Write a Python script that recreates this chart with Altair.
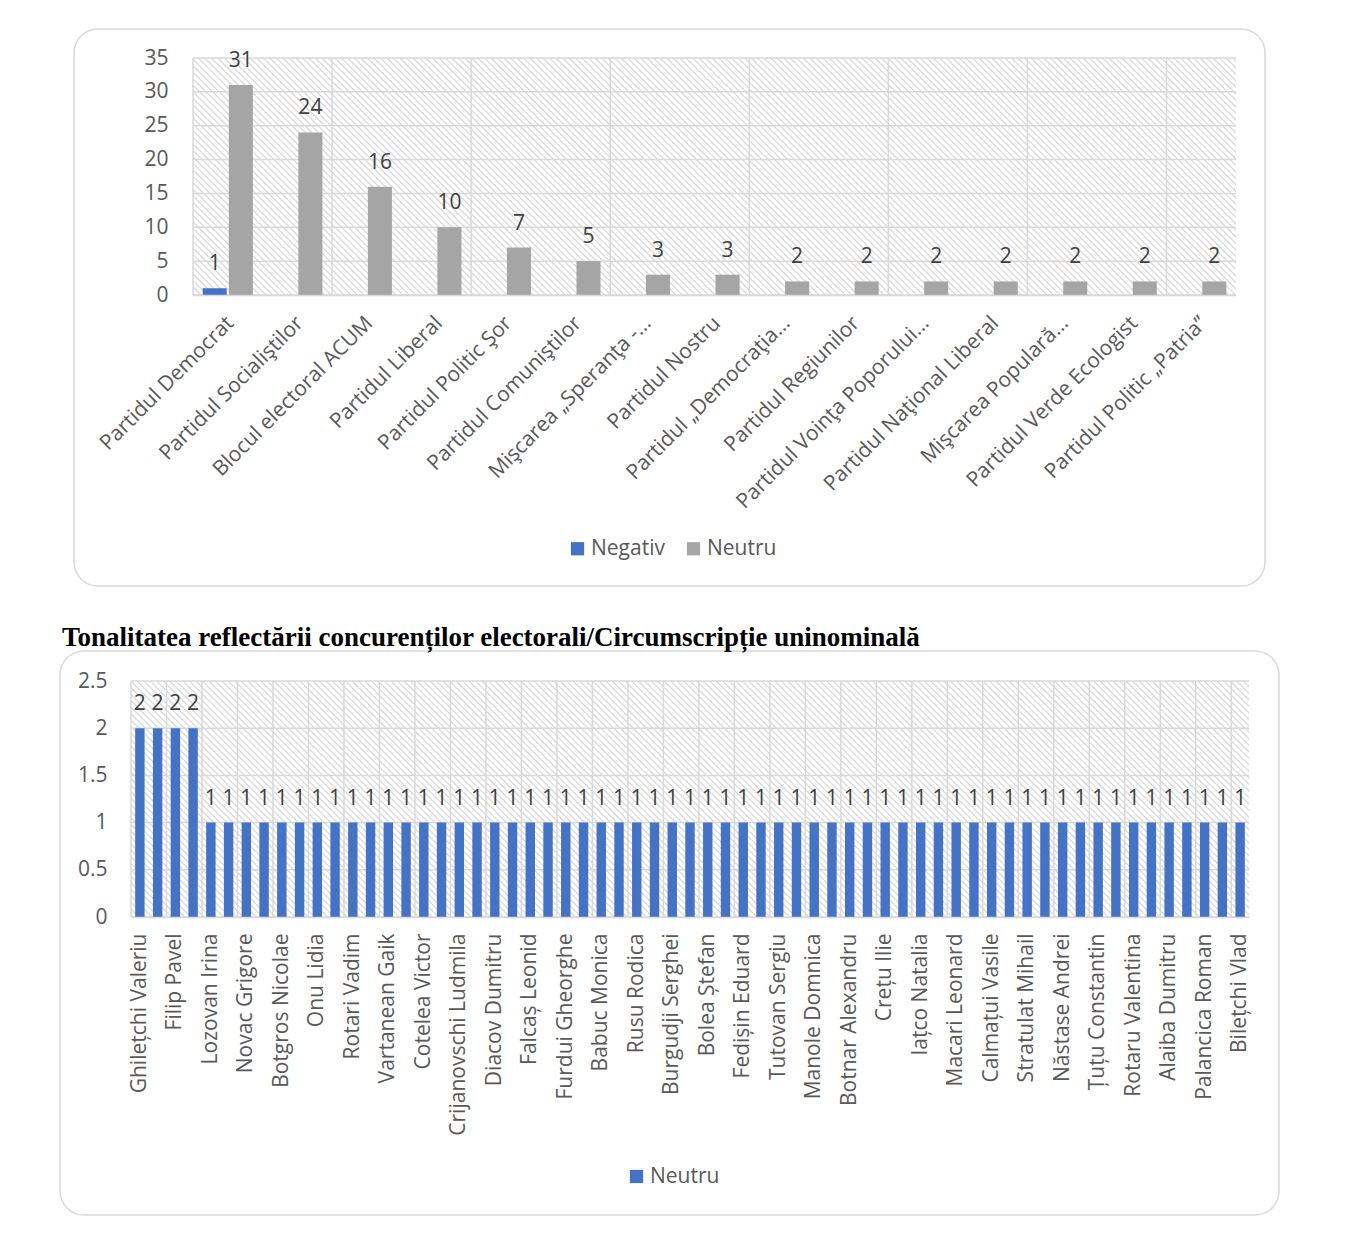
import json
import altair as alt
import pandas as pd

# ---------------- data ----------------
parties = [
    "Partidul Democrat", "Partidul Socialiştilor", "Blocul electoral ACUM",
    "Partidul Liberal", "Partidul Politic Şor", "Partidul Comuniştilor",
    "Mişcarea „Speranţa -…", "Partidul Nostru", "Partidul „Democraţia…",
    "Partidul Regiunilor", "Partidul Voinţa Poporului…", "Partidul Naţional Liberal",
    "Mişcarea Populară…", "Partidul Verde Ecologist", "Partidul Politic „Patria”",
]
negativ = [1, None, None, None, None, None, None, None, None, None, None, None, None, None, None]
neutru = [31, 24, 16, 10, 7, 5, 3, 3, 2, 2, 2, 2, 2, 2, 2]
series = ["Negativ", "Neutru"]
series_colors = ["#4472C4", "#A5A5A5"]
top_y_ticks = [0, 5, 10, 15, 20, 25, 30, 35]

# only every other candidate name is printed on the axis of the original chart
candidate_labels = [
    "Ghilețchi Valeriu", "Filip Pavel", "Lozovan Irina", "Novac Grigore",
    "Botgros Nicolae", "Onu Lidia", "Rotari Vadim", "Vartanean Gaik",
    "Cotelea Victor", "Crijanovschi Ludmila", "Diacov Dumitru", "Falcaș Leonid",
    "Furdui Gheorghe", "Babuc Monica", "Rusu Rodica", "Burgudji Serghei",
    "Bolea Ștefan", "Fedișin Eduard", "Tutovan Sergiu", "Manole Domnica",
    "Botnar Alexandru", "Crețu Ilie", "Iațco Natalia", "Macari Leonard",
    "Calmațui Vasile", "Stratulat Mihail", "Năstase Andrei", "Țuțu Constantin",
    "Rotaru Valentina", "Alaiba Dumitru", "Palancica Roman", "Bilețchi Vlad",
]
candidate_neutru = [
    2, 2, 2, 2, 1, 1, 1, 1, 1, 1, 1, 1, 1, 1, 1, 1, 1, 1, 1, 1, 1,
    1, 1, 1, 1, 1, 1, 1, 1, 1, 1, 1, 1, 1, 1, 1, 1, 1, 1, 1, 1, 1,
    1, 1, 1, 1, 1, 1, 1, 1, 1, 1, 1, 1, 1, 1, 1, 1, 1, 1, 1, 1, 1,
]
bottom_y_ticks = [0, 0.5, 1, 1.5, 2, 2.5]
title_text = "Tonalitatea reflectării concurenților electorali/Circumscripție uninominală"

FONT = "Open Sans"
FS = 21
LABEL_COLOR = "#595959"
VALUE_COLOR = "#404040"
GRID = "#d9d9d9"
FRAME = "#d9d9d9"


def hatch(W, H, period=4.6, line=2.2, bg="#ffffff", fg="#d3d3d3"):
    """Diagonal hatch built from a striped linear gradient."""
    r = H / W
    k = (1 + r) / (1 + r * r)
    L = (W + H) / 2 ** 0.5
    stops = []
    i = 0
    while True:
        a = i * period / L
        b = (i * period + line / 2) / L
        c = (i * period + line) / L
        if c > 1:
            break
        stops += [
            {"offset": round(a, 6), "color": bg},
            {"offset": round(b, 6), "color": fg},
            {"offset": round(c, 6), "color": bg},
        ]
        i += 1
    return {"gradient": "linear", "x1": 0, "y1": 1, "x2": k, "y2": 1 - k * r, "stops": stops}


one = alt.Data(values=[{}])

# ---------------- top chart (view = framed chart area) ----------------
TVW, TVH = 1191, 557          # frame / view size
TX0, TX1 = 119, 1162          # plot area inside the view
TY0, TY1 = 29, 266
rows = []
for p, ng, nt in zip(parties, negativ, neutru):
    if ng is not None:
        rows.append({"party": p, "series": "Negativ", "value": ng})
    if nt is not None:
        rows.append({"party": p, "series": "Neutru", "value": nt})
top_df = pd.DataFrame(rows)
top_vgrid = pd.DataFrame({"party": parties[::2]})
top_hgrid = pd.DataFrame({"v": top_y_ticks})

x_scale_t = alt.Scale(domain=parties, range=[TX0, TX1], paddingInner=0, paddingOuter=0)
x_axis_t = alt.Axis(
    title=None, labelAngle=-45, labelFont=FONT, labelFontSize=FS, labelColor=LABEL_COLOR,
    labelLimit=500, ticks=False, domainColor=GRID, domainWidth=1.5, labelPadding=17,
    labelOffset=-5, grid=False, zindex=1, offset=-(TVH - TY1),
)
y_scale_t = alt.Scale(domain=[0, 35], range=[TY1, TY0], nice=False)
y_axis_t = alt.Axis(
    title=None, values=top_y_ticks, grid=False, domain=False, ticks=False, tickSize=0,
    labelPadding=25, labelFont=FONT, labelFontSize=FS, labelColor=LABEL_COLOR, zindex=1,
    offset=-TX0,
)
xo = alt.XOffset("series:N", scale=alt.Scale(domain=series, paddingInner=0.08, paddingOuter=0.37))

t_bg = alt.Chart(one).mark_rect(fill=hatch(TX1 - TX0, TY1 - TY0)).encode(
    x=alt.value(TX0), x2=alt.value(TX1), y=alt.value(TY0), y2=alt.value(TY1)
)
t_hgrid = alt.Chart(top_hgrid).mark_rule(color=GRID, strokeWidth=1.5).encode(
    y=alt.Y("v:Q", scale=y_scale_t, axis=y_axis_t), x=alt.value(TX0), x2=alt.value(TX1)
)
t_vgrid = alt.Chart(top_vgrid).mark_rule(color=GRID, strokeWidth=1.5).encode(
    x=alt.X("party:N", scale=x_scale_t, axis=x_axis_t, bandPosition=0),
    y=alt.value(TY0), y2=alt.value(TY1),
)
t_bars = alt.Chart(top_df).mark_bar().encode(
    x=alt.X("party:N", scale=x_scale_t, axis=x_axis_t),
    xOffset=xo,
    y=alt.Y("value:Q", scale=y_scale_t, axis=y_axis_t),
    color=alt.Color(
        "series:N",
        scale=alt.Scale(domain=series, range=series_colors),
        legend=alt.Legend(
            title=None, orient="none", legendX=493, legendY=509, direction="horizontal",
            symbolType="square", symbolSize=175, symbolStrokeWidth=0, labelFont=FONT,
            labelFontSize=FS, labelColor=LABEL_COLOR, columnPadding=18, labelOffset=3,
            padding=0,
        ),
    ),
)
t_text = alt.Chart(top_df).mark_text(
    font=FONT, fontSize=FS, color=VALUE_COLOR, baseline="alphabetic", dy=-18
).encode(
    x=alt.X("party:N", scale=x_scale_t, axis=x_axis_t),
    xOffset=xo,
    y=alt.Y("value:Q", scale=y_scale_t, axis=y_axis_t),
    text=alt.Text("value:Q"),
)
top = alt.layer(t_bg, t_hgrid, t_vgrid, t_bars, t_text).properties(width=TVW, height=TVH)

# ---------------- bottom chart ----------------
BVW, BVH = 1219, 564
BX0, BX1 = 71, 1189
BY0, BY1 = 30, 266
n = len(candidate_neutru)
idx = list(range(n))
bot_df = pd.DataFrame({"idx": idx, "value": candidate_neutru, "series": ["Neutru"] * n})
bot_vgrid = pd.DataFrame({"idx": idx[::2]})
bot_hgrid = pd.DataFrame({"v": bottom_y_ticks})

label_expr = json.dumps(candidate_labels, ensure_ascii=False) + "[datum.value / 2]"
x_scale_b = alt.Scale(domain=idx, range=[BX0, BX1], paddingInner=0, paddingOuter=0)
x_axis_b = alt.Axis(
    title=None, values=idx[::2], labelExpr=label_expr, labelAngle=-90, labelFont=FONT,
    labelFontSize=FS, labelColor=LABEL_COLOR, labelLimit=500, ticks=False, domainColor=GRID,
    domainWidth=1.5, labelPadding=16, grid=False, zindex=1, offset=-(BVH - BY1),
)
y_scale_b = alt.Scale(domain=[0, 2.5], range=[BY1, BY0], nice=False)
y_axis_b = alt.Axis(
    title=None, values=bottom_y_ticks, format="~g", grid=False, domain=False, ticks=False,
    tickSize=0, labelPadding=24, labelFont=FONT, labelFontSize=FS, labelColor=LABEL_COLOR,
    zindex=1, offset=-BX0,
)

b_bg = alt.Chart(one).mark_rect(fill=hatch(BX1 - BX0, BY1 - BY0)).encode(
    x=alt.value(BX0), x2=alt.value(BX1), y=alt.value(BY0), y2=alt.value(BY1)
)
b_hgrid = alt.Chart(bot_hgrid).mark_rule(color=GRID, strokeWidth=1.5).encode(
    y=alt.Y("v:Q", scale=y_scale_b, axis=y_axis_b), x=alt.value(BX0), x2=alt.value(BX1)
)
b_vgrid = alt.Chart(bot_vgrid).mark_rule(color=GRID, strokeWidth=1.5).encode(
    x=alt.X("idx:O", scale=x_scale_b, axis=x_axis_b, bandPosition=0),
    y=alt.value(BY0), y2=alt.value(BY1),
)
b_bars = alt.Chart(bot_df).mark_bar(width=alt.RelativeBandSize(0.53)).encode(
    x=alt.X("idx:O", scale=x_scale_b, axis=x_axis_b),
    y=alt.Y("value:Q", scale=y_scale_b, axis=y_axis_b),
    color=alt.Color(
        "series:N",
        scale=alt.Scale(domain=["Neutru"], range=["#4472C4"]),
        legend=alt.Legend(
            title=None, orient="none", legendX=566, legendY=515, direction="horizontal",
            symbolType="square", symbolSize=175, symbolStrokeWidth=0, labelFont=FONT,
            labelFontSize=FS, labelColor=LABEL_COLOR, labelOffset=3, padding=0,
        ),
    ),
)
b_text = alt.Chart(bot_df).mark_text(
    font=FONT, fontSize=FS, color=VALUE_COLOR, baseline="alphabetic", dy=-18
).encode(
    x=alt.X("idx:O", scale=x_scale_b, axis=x_axis_b),
    y=alt.Y("value:Q", scale=y_scale_b, axis=y_axis_b),
    text=alt.Text("value:Q"),
)
bottom = alt.layer(b_bg, b_hgrid, b_vgrid, b_bars, b_text).properties(
    width=BVW,
    height=BVH,
    title=alt.Title(
        title_text, anchor="start", frame="group", font="Liberation Serif", fontSize=27,
        fontWeight="bold", color="#000000", offset=-1, dx=2,
    ),
)

chart = (
    alt.vconcat(top, bottom, spacing=65, center=True, bounds="flush")
    .resolve_scale(color="independent")
    .properties(padding={"left": 51, "top": 20, "right": 5, "bottom": 5})
    .configure_view(stroke=FRAME, strokeWidth=1.5, cornerRadius=24)
)

chart.save("out.html", embed_options={"renderer": "svg", "actions": False})
